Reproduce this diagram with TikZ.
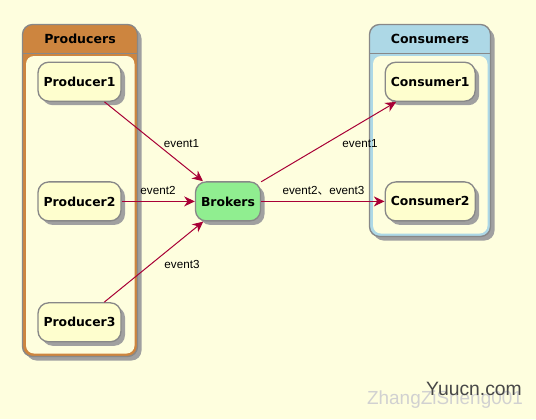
\documentclass[tikz,border=0pt]{standalone}
\usepackage{fontspec}
\setmainfont{Liberation Sans}
\newfontfamily\boxfont{DejaVu Sans}
\newfontfamily\cjk{Noto Sans CJK SC}
\usetikzlibrary{shadows}
\usetikzlibrary{arrows.meta}

\definecolor{umlbg}{RGB}{254,254,222}
\definecolor{umlbox}{RGB}{254,254,206}
\definecolor{umlline}{RGB}{136,136,136}
\definecolor{umlarrow}{RGB}{168,0,54}
\definecolor{umlperu}{RGB}{205,133,63}
\definecolor{umlblue}{RGB}{173,216,230}
\definecolor{umlgreen}{RGB}{144,238,144}
\definecolor{umlshadow}{RGB}{160,160,160}

\tikzset{
  shade box/.style={drop shadow={shadow xshift=3pt,shadow yshift=-3pt,fill=umlshadow,opacity=1}},
  grpline/.style={draw=umlline,line width=1pt},
  grptitle/.style={font=\boxfont\bfseries\fontsize{9.4}{11}\selectfont},
  comp/.style={draw=umlline,line width=1pt,fill=umlbox,rounded corners=8pt,minimum height=29.25pt,inner sep=0pt,font=\boxfont\bfseries\fontsize{9.3}{11}\selectfont,shade box},
  flow/.style={draw=umlarrow,line width=0.75pt,-{Stealth[length=8pt,width=7.5pt,inset=2.5pt]}},
  lbl/.style={font=\fontsize{8.75}{10}\selectfont},
}

\begin{document}
\begin{tikzpicture}[x=0.75pt,y=0.75pt,yscale=-1,xscale=1]
\useasboundingbox [fill=umlbg] (0,0) rectangle (536,419);

%Shape: Group Producers
\draw [grpline,fill=umlperu,rounded corners=7.5pt,shade box] (22.5,24.5) rectangle (137.5,356.5);
\fill [umlbg,rounded corners=6pt] (26,56) rectangle (134.5,353.5);
\draw [grpline] (22.5,53.3) -- (137.5,53.3);
\node [grptitle] (prodtitle) at (80,39.3) {Producers};

%Shape: Group Consumers
\draw [grpline,fill=umlblue,rounded corners=7.5pt,shade box] (369.5,24.5) rectangle (490.5,236.5);
\fill [umlbg,rounded corners=6pt] (373,56) rectangle (487.5,233.5);
\draw [grpline] (369.5,53.3) -- (490.5,53.3);
\node [grptitle] (constitle) at (430,39.3) {Consumers};

%Shape: Components
\node [comp,minimum width=62.25pt] (prod1) at (79.5,81.7) {Producer1};
\node [comp,minimum width=62.25pt] (prod2) at (79.5,201.4) {Producer2};
\node [comp,minimum width=62.25pt] (prod3) at (79.5,322.3) {Producer3};
\node [comp,fill=umlgreen,minimum width=48.75pt] (brk) at (228,201.4) {Brokers};
\node [comp,minimum width=67.5pt] (cons1) at (430.2,81.7) {Consumer1};
\node [comp,minimum width=67.5pt] (cons2) at (430.2,201.4) {Consumer2};

%Straight Lines
\draw [flow] (prod1) -- (brk);
\draw [flow] (prod2) -- (brk);
\draw [flow] (prod3) -- (brk);
\draw [flow] (brk) -- (cons1);
\draw [flow] (brk) -- (cons2);

% Text Node
\node [lbl] (ev1in) at (181.5,144) {event1};
\node [lbl] (ev2in) at (158,190.7) {event2};
\node [lbl] (ev3in) at (182,264) {event3};
\node [lbl] (ev1out) at (360,144) {event1};
\node [lbl] (ev23out) at (323.5,190.7) {event2{\cjk 、}event3};

% Text Node
\node [font=\fontsize{14.2}{16}\selectfont,text=black!18] (wmname) at (445,400) {ZhangZiSheng001};
\node [font=\fontsize{14.5}{16}\selectfont,text=black!72] (wmsite) at (474,389) {Yuucn.com};

\end{tikzpicture}
\end{document}
